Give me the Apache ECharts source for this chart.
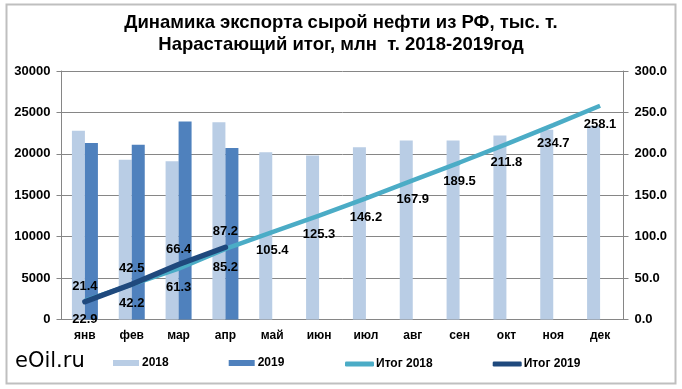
<!DOCTYPE html>
<html><head><meta charset="utf-8">
<script src="https://cdn.jsdelivr.net/npm/echarts@6/dist/echarts.min.js"></script>
<style>html,body{margin:0;padding:0;background:#fff}#c{width:682px;height:389px}</style>
</head><body><div id="c"></div>
<script>
var months = ['янв','фев','мар','апр','май','июн','июл','авг','сен','окт','ноя','дек'];
var exp2018 = [22800,19300,19100,23800,20200,19800,20800,21600,21600,22200,22900,23400];
var exp2019 = [21300,21100,23900,20700,null,null,null,null,null,null,null,null];
var cum2018 = [22.9,42.2,61.3,85.2,105.4,125.3,146.2,167.9,189.5,211.8,234.7,258.1];
var cum2019 = [21.4,42.5,66.4,87.2];
var leftTicks = {min:0,max:30000,interval:5000};
var rightTicks = {min:0,max:300,interval:50};

var F = '"Liberation Sans", Arial, sans-serif';
var chart = echarts.init(document.getElementById('c'), null, {renderer:'canvas'});
var axisGray = '#868686';
chart.setOption({
  animation:false,
  backgroundColor:'#fff',
  title:{
    text:'Динамика экспорта сырой нефти из РФ, тыс. т.\nНарастающий итог, млн  т. 2018-2019год',
    left:'center', top:7,
    textStyle:{fontFamily:F,fontSize:18.5,fontWeight:'bold',color:'#000',lineHeight:22}
  },
  graphic:[
    {type:'rect',left:4,top:2,shape:{width:669,height:379},style:{fill:'none',stroke:'#BFBFBF',lineWidth:2},silent:true},
    {type:'text',left:15,top:351,style:{text:'eOil.ru',font:'21px "DejaVu Sans", sans-serif',fill:'#000'}}
  ],
  legend:[
    {left:113,top:357,padding:0,itemWidth:26,itemHeight:6,itemGap:60,icon:'rect',
     textStyle:{fontFamily:F,fontSize:12,fontWeight:'bold',color:'#000',padding:[0,0,0,-2]},
     data:['2018','2019']},
    {left:345,top:358,padding:0,itemWidth:29,itemHeight:5,itemGap:60,icon:'roundRect',
     textStyle:{fontFamily:F,fontSize:12,fontWeight:'bold',color:'#000',padding:[0,0,0,-3]},
     data:['Итог 2018','Итог 2019']}
  ],
  grid:{left:61.5,right:58.5,top:71,bottom:69.5,containLabel:false},
  xAxis:{type:'category',data:months,
    axisLine:{lineStyle:{color:axisGray}},
    axisTick:{length:5,lineStyle:{color:axisGray}},
    axisLabel:{fontFamily:F,fontSize:12,fontWeight:'bold',color:'#000',margin:10}},
  yAxis:[
    {type:'value',min:leftTicks.min,max:leftTicks.max,interval:leftTicks.interval,
     axisLine:{show:true,lineStyle:{color:axisGray}},
     axisTick:{show:true,length:5,lineStyle:{color:axisGray}},
     splitLine:{lineStyle:{color:axisGray}},
     axisLabel:{fontFamily:F,fontSize:13,fontWeight:'bold',color:'#000',margin:11,
       formatter:function(v){return String(v);}}},
    {type:'value',min:rightTicks.min,max:rightTicks.max,interval:rightTicks.interval,
     axisLine:{show:true,lineStyle:{color:axisGray}},
     axisTick:{show:true,length:5,lineStyle:{color:axisGray}},
     splitLine:{show:false},
     axisLabel:{fontFamily:F,fontSize:13,fontWeight:'bold',color:'#000',margin:11,
       formatter:function(v){return v.toFixed(1);}}}
  ],
  series:[
    {name:'2018',type:'bar',data:exp2018,barWidth:13,barGap:'0%',itemStyle:{color:'#B9CDE5'},z:1},
    {name:'2019',type:'bar',data:exp2019,barWidth:13,barGap:'0%',itemStyle:{color:'#4F81BD'},z:1},
    {name:'Итог 2018',type:'line',yAxisIndex:1,data:cum2018,symbol:'circle',symbolSize:0.1,showSymbol:true,
     lineStyle:{color:'#4BACC6',width:4.5},itemStyle:{color:'#4BACC6'},z:3,
     label:{show:true,position:'bottom',distance:12,fontFamily:F,fontSize:13,fontWeight:'bold',color:'#000',
       formatter:function(p){return p.value.toFixed(1);}}},
    {name:'Итог 2019',type:'line',yAxisIndex:1,data:cum2019,symbol:'circle',symbolSize:0.1,showSymbol:true,
     lineStyle:{color:'#1F497D',width:5.5,cap:'round'},itemStyle:{color:'#1F497D'},z:4,
     label:{show:true,position:'top',distance:9,fontFamily:F,fontSize:13,fontWeight:'bold',color:'#000',
       formatter:function(p){return p.value.toFixed(1);}}}
  ]
});
</script></body></html>
